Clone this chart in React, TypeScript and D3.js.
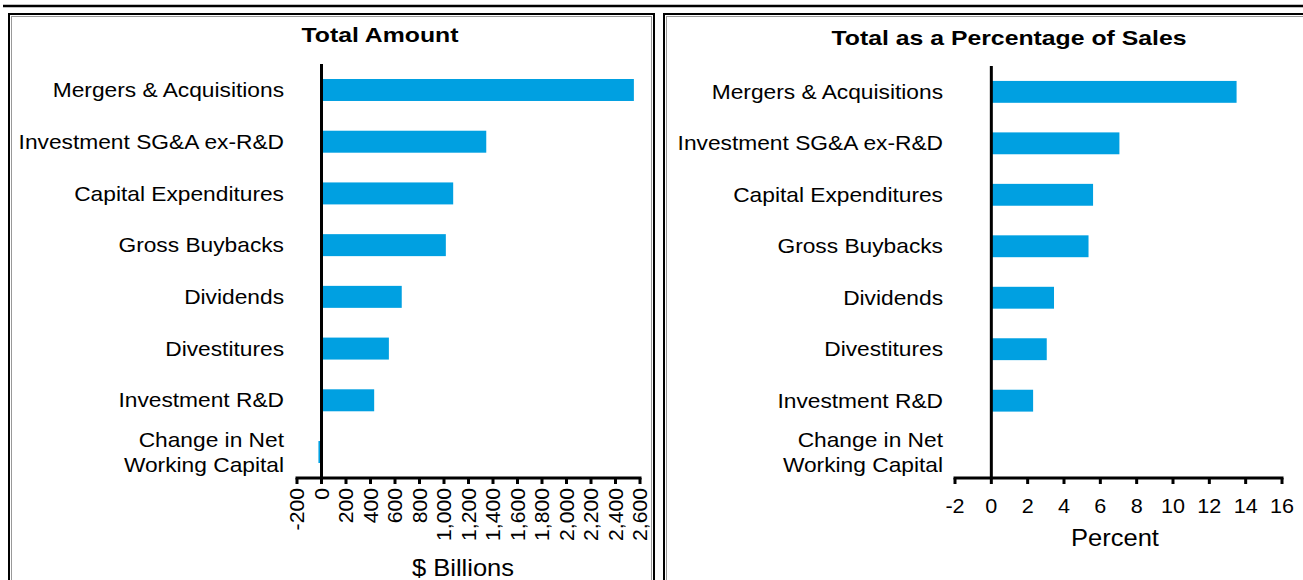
import * as d3 from "d3";

const CATEGORIES = [
  "Mergers & Acquisitions",
  "Investment SG&A ex-R&D",
  "Capital Expenditures",
  "Gross Buybacks",
  "Dividends",
  "Divestitures",
  "Investment R&D",
  "Change in Net\nWorking Capital",
];
const TOTAL_AMOUNT = [2550, 1345, 1075, 1015, 655, 550, 430, -25];
const PCT_OF_SALES = [13.5, 7.05, 5.6, 5.35, 3.45, 3.05, 2.3, -0.05];
const AMOUNT_TICKS = d3.range(-200, 2601, 200);
const PCT_TICKS = d3.range(-2, 17, 2);

const FONT = "'Liberation Sans', Arial, sans-serif";
const BAR = "#00a0e1";
const STRETCH = 1.11;

// text stretched horizontally, the original looks wider than Arial
function SText({ x, y, sx = STRETCH, rotate = 0, children, ...rest }) {
  return (
    <text transform={`translate(${x},${y}) rotate(${rotate}) scale(${sx},1)`} {...rest}>
      {children}
    </text>
  );
}

function Panel({ title, titleX, titleY, values, ticks, domain, x0, x1, yTop, labelRight, rotateTicks, axisLabel, axisLabelX, axisLabelY }) {
  const yBottom = 478;
  const xScale = d3.scaleLinear().domain(domain).range([x0, x1]);
  const yScale = d3.scaleBand().domain(CATEGORIES).range([yTop, yBottom]).paddingInner(0.575).paddingOuter(0.29);
  const fmt = (t) => d3.format(",")(t).replace("\u2212", "-");

  return (
    <g>
      <SText x={titleX} y={titleY} sx={1.24} textAnchor="middle" fontWeight="bold" fontSize={20}>{title}</SText>
      {CATEGORIES.map((c, i) => {
        const v = values[i];
        const y = yScale(c);
        const lines = c.split("\n");
        const cy = y + yScale.bandwidth() / 2;
        return (
          <g key={c}>
            <rect
              x={xScale(Math.min(0, v))}
              y={y}
              width={Math.abs(xScale(v) - xScale(0))}
              height={yScale.bandwidth()}
              fill={BAR}
            />
            {lines.map((l, j) => (
              <SText key={j} x={labelRight} y={cy + (j - (lines.length - 1) / 2) * 25} textAnchor="end" dominantBaseline="central" fontSize={20.5}>
                {l}
              </SText>
            ))}
          </g>
        );
      })}
      <line x1={xScale(0)} x2={xScale(0)} y1={yTop} y2={yBottom} stroke="#000" strokeWidth={3} />
      <line x1={x0 - 1.5} x2={x1 + 1.5} y1={yBottom} y2={yBottom} stroke="#000" strokeWidth={3} />
      {ticks.map((t) => (
        <g key={t}>
          <line x1={xScale(t)} x2={xScale(t)} y1={yBottom} y2={yBottom + 6} stroke="#000" strokeWidth={3} />
          {rotateTicks ? (
            <SText x={xScale(t)} y={yBottom + 10} rotate={-90} sx={1.06} textAnchor="end" dominantBaseline="central" fontSize={20}>
              {fmt(t)}
            </SText>
          ) : (
            <SText x={xScale(t)} y={yBottom + 35} sx={1.08} textAnchor="middle" fontSize={20}>{t}</SText>
          )}
        </g>
      ))}
      <SText x={axisLabelX} y={axisLabelY} textAnchor="middle" fontSize={23}>{axisLabel}</SText>
    </g>
  );
}

export default function App() {
  return (
    <div style={{ position: "absolute", left: 0, top: 0 }}>
      <svg width={1303} height={580} fontFamily={FONT} style={{ display: "block" }}>
        <rect width={1303} height={580} fill="#fff" />
        <line x1={3} x2={1303} y1={6} y2={6} stroke="#000" strokeWidth={2.5} />
        <rect x={9} y={14} width={645} height={580} fill="none" stroke="#000" strokeWidth={2} />
        <rect x={11.5} y={16.5} width={640} height={580} fill="none" stroke="#999" strokeWidth={1} />
        <rect x={664} y={14} width={660} height={580} fill="none" stroke="#000" strokeWidth={2} />
        <rect x={666.5} y={16.5} width={660} height={580} fill="none" stroke="#999" strokeWidth={1} />
        <Panel
          title="Total Amount"
          titleX={380}
          titleY={42}
          values={TOTAL_AMOUNT}
          ticks={AMOUNT_TICKS}
          domain={[-200, 2600]}
          x0={297}
          x1={640}
          yTop={64}
          labelRight={284}
          rotateTicks={true}
          axisLabel="$ Billions"
          axisLabelX={463}
          axisLabelY={576}
        />
        <Panel
          title="Total as a Percentage of Sales"
          titleX={1009}
          titleY={45}
          values={PCT_OF_SALES}
          ticks={PCT_TICKS}
          domain={[-2, 16]}
          x0={955}
          x1={1282}
          yTop={66}
          labelRight={943}
          rotateTicks={false}
          axisLabel="Percent"
          axisLabelX={1115}
          axisLabelY={546}
        />
      </svg>
    </div>
  );
}
